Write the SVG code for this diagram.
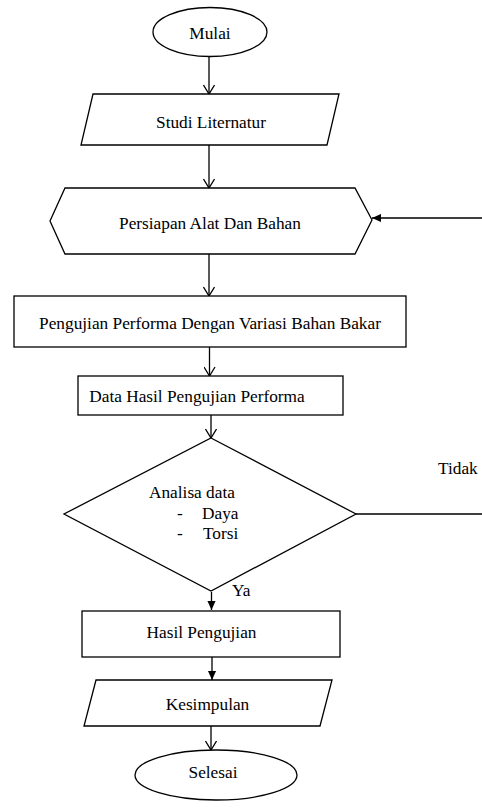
<svg xmlns="http://www.w3.org/2000/svg" width="482" height="809" viewBox="0 0 482 809">
<defs>
<marker id="v" viewBox="0 0 12 12" refX="11" refY="6" markerWidth="12" markerHeight="12" markerUnits="userSpaceOnUse" orient="auto">
<path d="M2,0.5 L11,6 L2,11.5" fill="none" stroke="#000" stroke-width="1.3"/>
</marker>
<marker id="f" viewBox="0 0 10 10" refX="10" refY="5" markerWidth="10" markerHeight="9" markerUnits="userSpaceOnUse" orient="auto">
<path d="M0,0.5 L10,5 L0,9.5 Z" fill="#000"/>
</marker>
</defs>
<g id="connectors" fill="none" stroke="#000" stroke-width="1.3">
<line x1="209" y1="57" x2="209" y2="94" marker-end="url(#v)"/>
<line x1="209" y1="145" x2="209" y2="188" marker-end="url(#v)"/>
<line x1="209" y1="254" x2="209" y2="296" marker-end="url(#v)"/>
<line x1="209.5" y1="347" x2="209.5" y2="376" marker-end="url(#v)"/>
<line x1="211" y1="415" x2="211" y2="438" marker-end="url(#v)"/>
<line x1="211.5" y1="592" x2="211.5" y2="610" marker-end="url(#f)"/>
<line x1="212" y1="657" x2="212" y2="680" marker-end="url(#f)"/>
<line x1="211" y1="726" x2="211" y2="750" marker-end="url(#v)"/>
<path d="M356,514 H492 V218 H372" marker-end="url(#f)"/>
</g>
<g id="labels" font-family="Liberation Serif" font-size="17.3">
<text x="438" y="474">Tidak</text>
<text x="232" y="596">Ya</text>
</g>
<g id="mulai">
<ellipse cx="210" cy="32" rx="57" ry="24.5" fill="#fff" stroke="#000" stroke-width="1.3"/>
<text font-family="Liberation Serif" font-size="17.3" text-anchor="middle" x="210" y="39">Mulai</text>
</g>
<g id="studi">
<polygon points="93,94 339,94 327,145 81,145" fill="#fff" stroke="#000" stroke-width="1.3"/>
<text font-family="Liberation Serif" font-size="17.3" text-anchor="middle" x="211" y="128">Studi Liternatur</text>
</g>
<g id="persiapan">
<polygon points="65,188 355,188 372,220 355,254 65,254 50,221" fill="#fff" stroke="#000" stroke-width="1.3"/>
<text font-family="Liberation Serif" font-size="17.3" text-anchor="middle" x="210" y="229">Persiapan Alat Dan Bahan</text>
</g>
<g id="pengujian">
<rect x="14" y="296" width="392" height="51" fill="#fff" stroke="#000" stroke-width="1.3"/>
<text font-family="Liberation Serif" font-size="17.3" text-anchor="middle" x="210" y="329">Pengujian Performa Dengan Variasi Bahan Bakar</text>
</g>
<g id="data">
<rect x="78" y="376" width="265" height="39" fill="#fff" stroke="#000" stroke-width="1.3"/>
<text font-family="Liberation Serif" font-size="17.3" text-anchor="middle" x="197" y="402">Data Hasil Pengujian Performa</text>
</g>
<g id="analisa" font-family="Liberation Serif" font-size="17.3">
<polygon points="211,438 356,514 211,591 64,514" fill="#fff" stroke="#000" stroke-width="1.3"/>
<text x="149" y="498">Analisa data</text>
<text x="177" y="519">-</text>
<text x="202" y="519">Daya</text>
<text x="177" y="539">-</text>
<text x="203" y="539">Torsi</text>
</g>
<g id="hasil">
<rect x="82" y="611" width="258" height="46" fill="#fff" stroke="#000" stroke-width="1.3"/>
<text font-family="Liberation Serif" font-size="17.3" text-anchor="middle" x="201.5" y="638">Hasil Pengujian</text>
</g>
<g id="kesimpulan">
<polygon points="96,680 332,680 320,726 84,726" fill="#fff" stroke="#000" stroke-width="1.3"/>
<text font-family="Liberation Serif" font-size="17.3" text-anchor="middle" x="207.5" y="710">Kesimpulan</text>
</g>
<g id="selesai">
<ellipse cx="216" cy="775" rx="81" ry="25" fill="#fff" stroke="#000" stroke-width="1.3"/>
<text font-family="Liberation Serif" font-size="17.3" text-anchor="middle" x="213" y="778">Selesai</text>
</g>
</svg>
